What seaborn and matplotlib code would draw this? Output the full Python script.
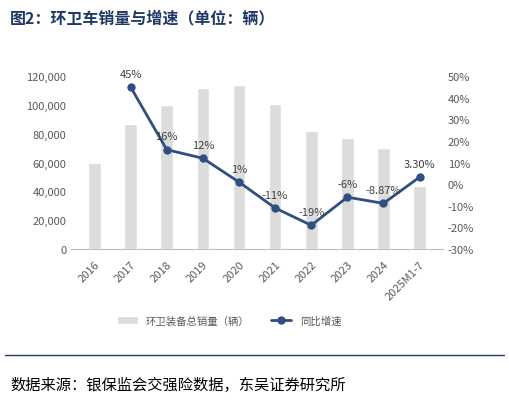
import matplotlib
matplotlib.use("Agg")
import matplotlib.pyplot as plt
import seaborn as sns
import pandas as pd
from matplotlib.ticker import FuncFormatter, MultipleLocator

years = ["2016","2017","2018","2019","2020","2021","2022","2023","2024","2025M1-7"]
sales = [60000, 86500, 100000, 112000, 114000, 101000, 82000, 77000, 70000, 44000]
growth = [None, 45, 16, 12, 1, -11, -19, -6, -8.87, 3.30]
growth_labels = ["", "45%", "16%", "12%", "1%", "-11%", "-19%", "-6%", "-8.87%", "3.30%"]

sns.set_style("white")
plt.rcParams['font.family'] = ['Noto Sans CJK SC', 'DejaVu Sans']

fig = plt.figure(figsize=(5.09, 4.02), dpi=100)
ax = fig.add_axes([0.14, 0.378, 0.73, 0.43])
df = pd.DataFrame({"year": years, "sales": sales, "growth": growth})
sns.barplot(data=df, x="year", y="sales", color="#dcdcdc", width=0.35, ax=ax, label="环卫装备总销量（辆）")
if ax.get_legend() is not None:
    ax.get_legend().remove()
ax.set_ylim(0, 120000)
ax.yaxis.set_major_locator(MultipleLocator(20000))
ax.yaxis.set_major_formatter(FuncFormatter(lambda v, p: f"{int(v):,}"))
ax.set_xlabel(""); ax.set_ylabel("")
for s in ["top", "right", "left"]:
    ax.spines[s].set_visible(False)
ax.spines["bottom"].set_color("#bfbfbf")
ax.tick_params(axis="y", labelsize=8, colors="#595959", length=0)
ax.tick_params(axis="x", labelsize=8, colors="#595959", rotation=45)
for t in ax.get_xticklabels():
    t.set_ha("right"); t.set_rotation_mode("anchor")

ax2 = ax.twinx()
line_df = df.dropna()
ax2.plot(line_df.index, line_df["growth"], color="#2f4f80", lw=2, marker="o", ms=5, label="同比增速")
ax2.set_ylim(-30, 50)
ax2.yaxis.set_major_locator(MultipleLocator(10))
ax2.yaxis.set_major_formatter(FuncFormatter(lambda v, p: f"{int(v)}%"))
ax2.tick_params(axis="y", labelsize=8, colors="#595959", length=0)
for s in ["top", "right", "left", "bottom"]:
    ax2.spines[s].set_visible(False)
for i, (g, lab) in enumerate(zip(growth, growth_labels)):
    if g is None:
        continue
    ax2.annotate(lab, (i, g), xytext=(0, 6), textcoords="offset points", ha="center", va="bottom", fontsize=8, color="#404040")

h1, l1 = ax.get_legend_handles_labels()
h2, l2 = ax2.get_legend_handles_labels()
fig.legend(h1 + h2, l1 + l2, loc="center", bbox_to_anchor=(0.45, 0.2), ncol=2, frameon=False, fontsize=7.5, labelcolor="#595959")

fig.text(0.02, 0.955, "图2：环卫车销量与增速（单位：辆）", fontsize=11.5, fontweight="bold", color="#1f3864", va="center")
fig.add_artist(plt.Line2D([0.01, 0.99], [0.115, 0.115], color="#1f3864", lw=1))
fig.text(0.02, 0.04, "数据来源：银保监会交强险数据，东吴证券研究所", fontsize=11, color="black", va="center")
fig.savefig("out.png", dpi=100)
